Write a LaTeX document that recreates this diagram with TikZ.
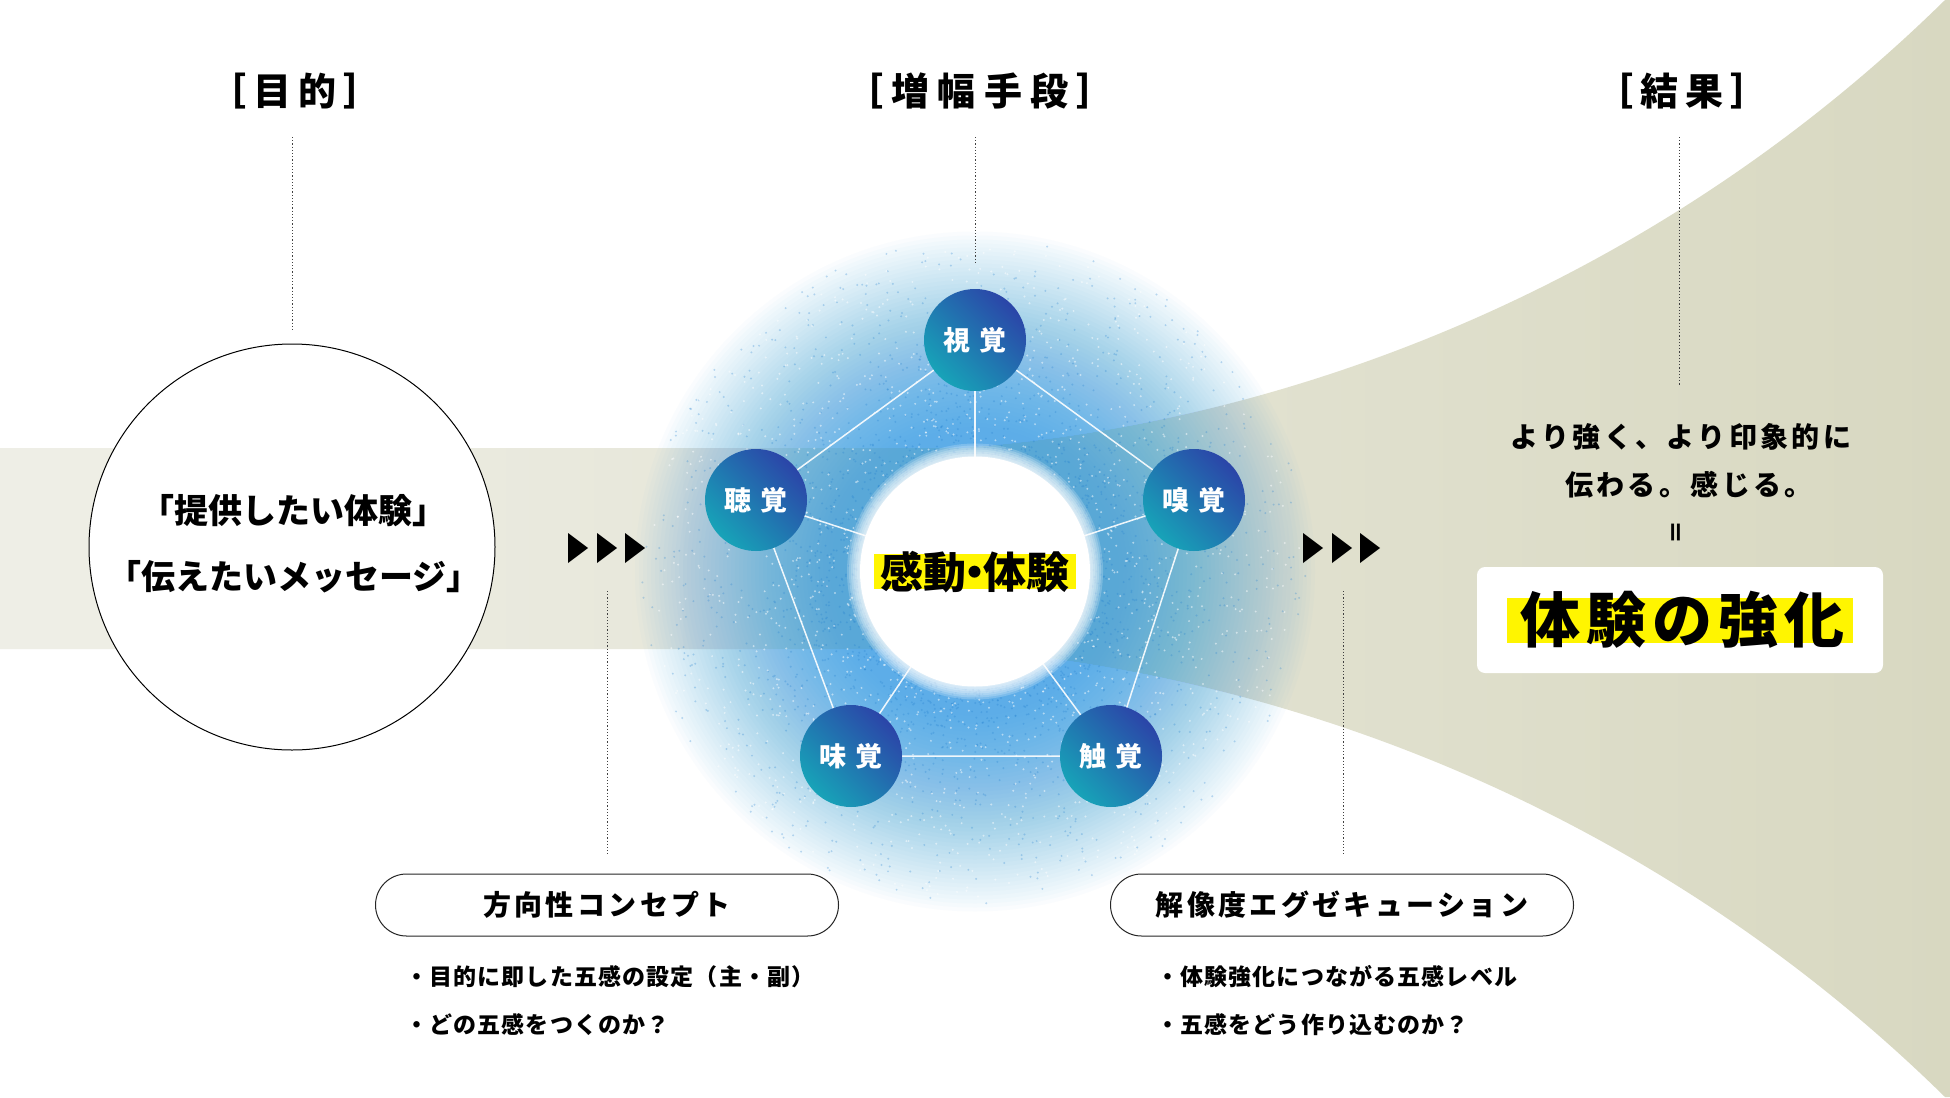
\documentclass[tikz,border=0pt]{standalone}
\usepackage{fontspec}
\setmainfont{Noto Sans CJK JP}
\newfontfamily\jpHead[LetterSpace=18]{Noto Sans CJK JP}
\newfontfamily\jpHeadW[LetterSpace=22]{Noto Sans CJK JP}
\newfontfamily\jpSp[LetterSpace=12]{Noto Sans CJK JP}
\newfontfamily\jpSense[LetterSpace=30]{Noto Sans CJK JP}
\newfontfamily\jpBul[LetterSpace=5]{Noto Sans CJK JP}
\newfontfamily\jpBig[LetterSpace=10]{Noto Sans CJK JP}
\usetikzlibrary{calc}

\definecolor{bandA}{HTML}{F5F5F1}
\definecolor{bandB}{HTML}{EDEDE4}
\definecolor{bandC}{HTML}{E2E2D1}
\definecolor{bandD}{HTML}{D8D8C1}
\definecolor{bandE}{HTML}{C5C5A3}
\definecolor{glowblue}{HTML}{4AA8E8}
\definecolor{grainblue}{HTML}{2380D0}
\definecolor{senseTop}{HTML}{2B45A8}
\definecolor{senseBot}{HTML}{17A3B8}
\definecolor{hlyellow}{HTML}{FFF500}

\pgfdeclarehorizontalshading{bandshade}{100bp}{color(0bp)=(bandA); color(30bp)=(bandB); color(55bp)=(bandC); color(75bp)=(bandD); color(100bp)=(bandE)}

\begin{document}
\begin{tikzpicture}[x=1pt,y=-1pt,
  hd/.style={font=\jpHead\bfseries\fontsize{38}{40}\selectfont, inner sep=0pt},
  dotln/.style={line width=1pt, dash pattern=on 1.2pt off 2pt, draw=black!75},
  sense/.style={circle, minimum size=102pt, inner sep=0pt, top color=senseTop, bottom color=senseBot, shading angle=-45, text=white, font=\jpSense\bfseries\fontsize{27}{27}\selectfont},
  pline/.style={draw=white, line width=1.5pt, opacity=0.9},
  pill/.style={draw=black!85, line width=1pt, rounded corners=31pt, minimum width=463pt, minimum height=62pt, fill=white, font=\jpSp\bfseries\fontsize{28}{28}\selectfont},
  bullet/.style={anchor=west, inner sep=0pt, font=\jpBul\bfseries\fontsize{23}{23}\selectfont},
  big/.style={inner sep=0pt, font=\bfseries\fontsize{34}{34}\selectfont},
  res/.style={inner sep=0pt, font=\jpSp\bfseries\fontsize{28}{28}\selectfont},
  tri/.style={fill=black}]
\useasboundingbox (0,0) rectangle (1950,1097);
\fill[white] (0,0) rectangle (1950,1097);

% band / horn
\shade[shading=bandshade] (0,448) -- (960,448) .. controls (1280,425) and (1650,290) .. (1945,0) -- (1950,0) -- (1950,1097) -- (1945,1097) .. controls (1650,807) and (1280,672) .. (960,649) -- (0,649) -- cycle;

% glow: nested translucent disks
\coordinate (ctr) at (975,571.5);
\foreach \r in {340,336,...,130}{
  \pgfmathsetmacro\fout{0.84*(1-(max(0.001,min(1,(\r+4-145)/200)))^1.3)}
  \pgfmathsetmacro\fin{0.84*(1-(max(0.001,min(1,(\r-145)/200)))^1.3)}
  \pgfmathsetmacro\aa{max(0,1-(1-\fin)/(1-\fout))}
  \fill[glowblue, fill opacity=\aa] (ctr) circle [radius=\r];
}
\pgfmathsetseed{7}
\foreach \i in {1,...,2400}{
  \pgfmathsetmacro\ang{360*rnd}
  \pgfmathsetmacro\uu{rnd}
  \pgfmathsetmacro\rr{118+215*\uu*\uu}
  \fill[grainblue, opacity=0.28] ($(ctr)+(\ang:\rr)$) circle [radius=1.1];
}
\foreach \i in {1,...,1400}{
  \pgfmathsetmacro\ang{360*rnd}
  \pgfmathsetmacro\uu{rnd}
  \pgfmathsetmacro\rr{125+200*\uu}
  \fill[white, opacity=0.5] ($(ctr)+(\ang:\rr)$) circle [radius=1.1];
}

% sense nodes positions
\coordinate (pSight) at (975,340);
\coordinate (pSmell) at (1194,500);
\coordinate (pTouch) at (1111,756);
\coordinate (pTaste) at (851,756);
\coordinate (pHear) at (756,500);

\draw[pline] (pSight) -- (pSmell) -- (pTouch) -- (pTaste) -- (pHear) -- cycle;
\foreach \p in {pSight,pSmell,pTouch,pTaste,pHear} \draw[pline] (\p) -- (ctr);

% white core with soft edge
\foreach \r in {128,126,...,116} \fill[white, fill opacity=0.2] (ctr) circle [radius=\r];
\fill[white] (ctr) circle [radius=115];

\node[sense] (sight) at (pSight) {視覚};
\node[sense] (smell) at (pSmell) {嗅覚};
\node[sense] (touch) at (pTouch) {触覚};
\node[sense] (taste) at (pTaste) {味覚};
\node[sense] (hear) at (pHear) {聴覚};

\fill[hlyellow] (874,554) rectangle (1076,589);
\node[inner sep=0pt, font=\bfseries\fontsize{43}{43}\selectfont] (core) at (975,572) {感動\kern-0.3em・\kern-0.3em体験};

% left circle
\node[circle, draw=black, line width=1pt, fill=white, minimum size=406pt, inner sep=0pt] (purpose) at (292,547) {};
\node[big] (want1) at (293,511) {「提供したい体験」};
\node[big] (want2) at (294,577) {「伝えたいメッセージ」};

% headings
\node[hd] (hPurpose) at (295,91) {［目的］};
\node[hd, font=\jpHeadW\bfseries\fontsize{38}{40}\selectfont] (hMeans) at (980,91) {［増幅手段］};
\node[hd] (hResult) at (1682,91) {［結果］};

\coordinate (dA1) at (292,137); \coordinate (dA2) at (292,330);
\coordinate (dB1) at (975,137); \coordinate (dB2) at (975,264);
\coordinate (dC1) at (1679,137); \coordinate (dC2) at (1679,386);
\coordinate (dD1) at (607,591); \coordinate (dD2) at (607,854);
\coordinate (dE1) at (1343,591); \coordinate (dE2) at (1343,854);
\draw[dotln] (dA1) -- (dA2);
\draw[dotln] (dB1) -- (dB2);
\draw[dotln] (dC1) -- (dC2);
\draw[dotln] (dD1) -- (dD2);
\draw[dotln] (dE1) -- (dE2);

% triangles
\foreach \x in {568,597,625} \fill[tri] (\x,533) -- (\x+20,548) -- (\x,563) -- cycle;
\foreach \x in {1303,1332,1360} \fill[tri] (\x,533) -- (\x+20,548) -- (\x,563) -- cycle;

% pills
\node[pill] (concept) at (607,905) {方向性コンセプト};
\node[pill] (exec) at (1342,905) {解像度エグゼキューション};

\node[bullet] (b1) at (405,977) {・目的に即した五感の設定（主・副）};
\node[bullet] (b2) at (405,1025) {・どの五感をつくのか？};
\node[bullet] (b3) at (1156,977) {・体験強化につながる五感レベル};
\node[bullet] (b4) at (1156,1025) {・五感をどう作り込むのか？};

% result
\node[res] (res1) at (1681,437) {より強く、より印象的に};
\node[res] (res2) at (1689,485) {伝わる。感じる。};
\node[inner sep=0pt, rotate=90, font=\bfseries\fontsize{24}{24}\selectfont] (eq) at (1679,532) {＝};
\node[fill=white, rounded corners=8pt, minimum width=406pt, minimum height=106pt, inner sep=0pt] (resbox) at (1680,620) {};
\fill[hlyellow] (1507,598) rectangle (1853,643);
\node[inner sep=0pt, font=\jpBig\bfseries\fontsize{60}{60}\selectfont] (strong) at (1682,620) {体験の強化};
\end{tikzpicture}
\end{document}
